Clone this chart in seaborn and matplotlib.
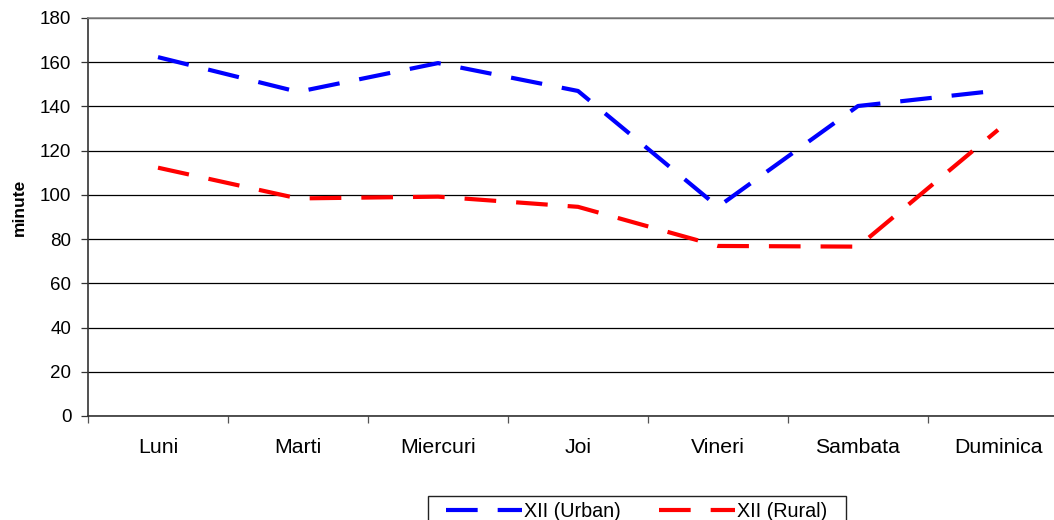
import matplotlib
matplotlib.use("Agg")
import matplotlib.pyplot as plt
import seaborn as sns
import pandas as pd
import numpy as np
from matplotlib.lines import Line2D
from matplotlib.patches import Rectangle

days = ["Luni", "Marti", "Miercuri", "Joi", "Vineri", "Sambata", "Duminica"]
urban = [162.3, 146.6, 159.6, 147.0, 94.6, 140.2, 147.2]
rural = [112.3, 98.4, 99.2, 94.6, 76.9, 76.6, 129.4]
series_names = ["XII (Urban)", "XII (Rural)"]
yticks = list(range(0, 181, 20))

sns.set_theme(style="white")
plt.rcParams['font.family'] = ['Liberation Sans', 'DejaVu Sans']
plt.rcParams['text.color'] = 'black'
plt.rcParams['xtick.color'] = 'black'
plt.rcParams['ytick.color'] = 'black'
plt.rcParams['axes.labelcolor'] = 'black'

FS_X = 15.3
FS_Y = 13.5
FS_LEG = 14.2

df = pd.DataFrame({
    "day": list(range(len(days))) * 2,
    "value": urban + rural,
    "series": [series_names[0]] * len(days) + [series_names[1]] * len(days),
})

fig = plt.figure(figsize=(10.54, 5.20), dpi=100)
ax = fig.add_axes([88/1054, 1 - 416/520, 980/1054, 398/520])

dash = (7.6, 4.8)
sns.lineplot(data=df, x="day", y="value", hue="series", style="series",
             palette={series_names[0]: "#0000FF", series_names[1]: "#FF0000"},
             dashes={series_names[0]: dash, series_names[1]: dash},
             linewidth=3, ax=ax, legend=False)

ax.set_xlim(-0.5, 6.5)
ax.set_ylim(0, 180)
ax.set_yticks(yticks)
ax.yaxis.grid(True, color="black", linewidth=0.9)
ax.set_axisbelow(True)

ax.set_xticks(range(len(days)))
ax.set_xticklabels(days, fontsize=FS_X)
ax.set_xticks(np.arange(-0.5, 7.0, 1.0), minor=True)
ax.tick_params(axis="x", which="major", length=0, pad=15.5)
ax.tick_params(axis="x", which="minor", length=5, width=0.9, color="#555555", direction="out", bottom=True)
ax.tick_params(axis="y", length=5, width=0.9, color="#333333", direction="out", left=True, labelsize=FS_Y, pad=7)

ax.set_xlabel("")
ax.set_ylabel("minute", fontsize=12.5, fontweight="bold")
ax.yaxis.set_label_coords(-0.0622, 0.525)

for side in ["left", "bottom"]:
    ax.spines[side].set_color("#333333")
    ax.spines[side].set_linewidth(1.2)
ax.spines["top"].set_color("#888888")
ax.spines["top"].set_linewidth(1.2)
ax.spines["right"].set_visible(False)

handles = [Line2D([], [], color="#0000FF", linewidth=3, linestyle=(0, dash)),
           Line2D([], [], color="#FF0000", linewidth=3, linestyle=(0, dash))]
leg = fig.legend(handles, series_names, loc="upper left",
                 bbox_to_anchor=(446/1054, 1 - 502/520), ncol=2,
                 fontsize=FS_LEG, handlelength=3.86, handletextpad=0.1,
                 columnspacing=1.93, frameon=False,
                 borderpad=0, borderaxespad=0)
fig.patches.append(Rectangle((428/1054, -0.1), (846 - 428)/1054, 0.1 + (520 - 496)/520,
                             transform=fig.transFigure, fill=False,
                             edgecolor="#222222", linewidth=1.0))

fig.savefig("out.png", dpi=100)
